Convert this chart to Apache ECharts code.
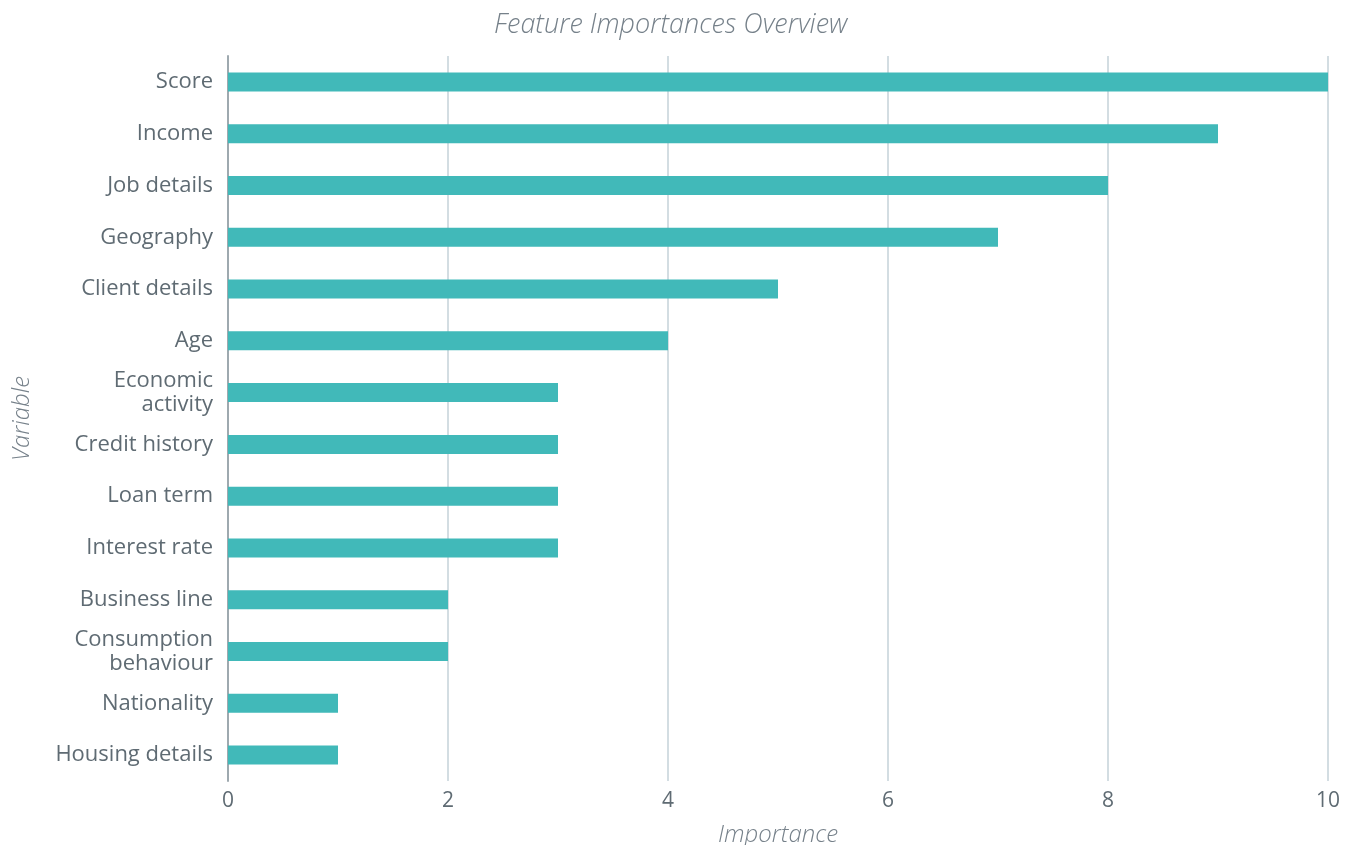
<!DOCTYPE html>
<html>
<head>
<meta charset="utf-8">
<script src="https://cdn.jsdelivr.net/npm/echarts@6/dist/echarts.min.js"></script>
<style>
  html, body { margin: 0; padding: 0; background: #fff; }
  #chart { width: 1358px; height: 845px; }
</style>
</head>
<body>
<div id="chart"></div>
<script>
// 数据
const categories = ['Score', 'Income', 'Job details', 'Geography', 'Client details', 'Age',
  'Economic\nactivity', 'Credit history', 'Loan term', 'Interest rate', 'Business line',
  'Consumption\nbehaviour', 'Nationality', 'Housing details'];
const importance = [10, 9, 8, 7, 5, 4, 3, 3, 3, 3, 2, 2, 1, 1];
const xTicks = [0, 2, 4, 6, 8, 10];

const textColor = '#5f6b73';
const fontFamily = '"Open Sans", Lato, sans-serif';
const nameStyle = { fontFamily, fontSize: 24, fontWeight: 300, fontStyle: 'italic', color: '#76818a' };

const chart = echarts.init(document.getElementById('chart'));
chart.setOption({
  animation: false,
  title: {
    text: 'Feature Importances Overview',
    left: 489,
    top: 7,
    textStyle: Object.assign({}, nameStyle, { fontSize: 27 })
  },
  grid: { left: 228, right: 30, top: 56, bottom: 64, outerBoundsMode: 'none' },
  xAxis: {
    type: 'value',
    min: xTicks[0],
    max: xTicks[xTicks.length - 1],
    interval: 2,
    name: 'Importance',
    nameLocation: 'middle',
    nameGap: 42,
    nameTextStyle: nameStyle,
    axisLine: { show: false },
    axisTick: { show: false },
    axisLabel: { fontFamily, fontSize: 21, color: textColor, margin: 10 },
    splitLine: { lineStyle: { color: '#d3dde2', width: 2 } }
  },
  yAxis: {
    type: 'category',
    data: categories,
    inverse: true,
    name: 'Variable',
    nameLocation: 'middle',
    nameGap: 194,
    nameTextStyle: nameStyle,
    axisLine: { lineStyle: { color: '#9ea9af', width: 2 } },
    axisTick: { show: false },
    axisLabel: { fontFamily, fontSize: 22, color: textColor, margin: 15, lineHeight: 24, padding: [5, 0, 0, 0] }
  },
  series: [{
    type: 'bar',
    data: importance,
    barWidth: 19,
    itemStyle: { color: '#41b9b9' }
  }]
});
</script>
</body>
</html>
